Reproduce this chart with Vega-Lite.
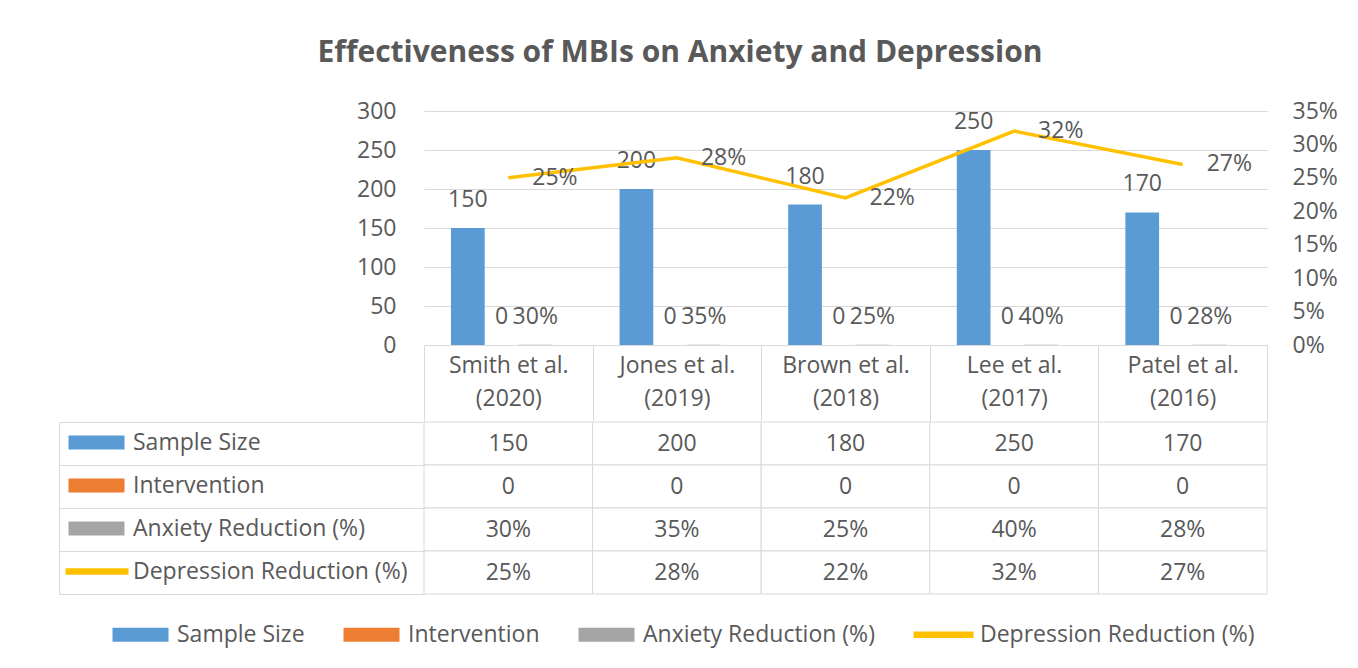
{
  "$schema": "https://vega.github.io/schema/vega-lite/v6.json",
  "background": "white",
  "padding": {"left": 58, "top": 38, "right": 20, "bottom": 10},
  "config": {
    "font": "Open Sans",
    "view": {"stroke": null},
    "axis": {"labelFont": "Open Sans", "labelColor": "#595959", "labelFontSize": 23},
    "legend": {"labelFont": "Open Sans", "labelColor": "#595959", "labelFontSize": 23}
  },
  "title": {"text": "Effectiveness of MBIs on Anxiety and Depression", "font": "Open Sans", "fontSize": 30, "fontWeight": "bold", "color": "#595959", "anchor": "middle", "offset": 32, "dx": -18},
  "datasets": {
    "long": [
      {"study": "Smith et al. (2020)", "series": "Sample Size", "value": 150},
      {"study": "Jones et al. (2019)", "series": "Sample Size", "value": 200},
      {"study": "Brown et al. (2018)", "series": "Sample Size", "value": 180},
      {"study": "Lee et al. (2017)", "series": "Sample Size", "value": 250},
      {"study": "Patel et al. (2016)", "series": "Sample Size", "value": 170},
      {"study": "Smith et al. (2020)", "series": "Intervention", "value": 0},
      {"study": "Jones et al. (2019)", "series": "Intervention", "value": 0},
      {"study": "Brown et al. (2018)", "series": "Intervention", "value": 0},
      {"study": "Lee et al. (2017)", "series": "Intervention", "value": 0},
      {"study": "Patel et al. (2016)", "series": "Intervention", "value": 0},
      {"study": "Smith et al. (2020)", "series": "Anxiety Reduction (%)", "value": 0.30},
      {"study": "Jones et al. (2019)", "series": "Anxiety Reduction (%)", "value": 0.35},
      {"study": "Brown et al. (2018)", "series": "Anxiety Reduction (%)", "value": 0.25},
      {"study": "Lee et al. (2017)", "series": "Anxiety Reduction (%)", "value": 0.40},
      {"study": "Patel et al. (2016)", "series": "Anxiety Reduction (%)", "value": 0.28},
      {"study": "Smith et al. (2020)", "series": "Depression Reduction (%)", "value": 0.25},
      {"study": "Jones et al. (2019)", "series": "Depression Reduction (%)", "value": 0.28},
      {"study": "Brown et al. (2018)", "series": "Depression Reduction (%)", "value": 0.22},
      {"study": "Lee et al. (2017)", "series": "Depression Reduction (%)", "value": 0.32},
      {"study": "Patel et al. (2016)", "series": "Depression Reduction (%)", "value": 0.27}
    ]
  },
  "spacing": -8,
  "vconcat": [
    {
      "width": 843,
      "height": 234,
      "data": {"name": "long"},
      "encoding": {
        "x": {
          "field": "study", "type": "nominal", "sort": null,
          "scale": {"domain": ["Smith et al. (2020)", "Jones et al. (2019)", "Brown et al. (2018)", "Lee et al. (2017)", "Patel et al. (2016)"], "paddingInner": 0, "paddingOuter": 0},
          "axis": {
            "title": null, "labelAngle": 0, "grid": false,
            "labelExpr": "[slice(datum.label, 0, indexof(datum.label, ' (')), slice(datum.label, indexof(datum.label, ' (') + 1)]",
            "domain": true, "domainColor": "#D9D9D9", "ticks": true, "tickBand": "extent", "tickSize": 76, "tickColor": "#D9D9D9",
            "labelPadding": -67, "labelBaseline": "top", "labelLineHeight": 33, "labelFontSize": 23
          }
        }
      },
      "layer": [
        {
          "transform": [{"filter": {"field": "series", "oneOf": ["Sample Size", "Intervention", "Anxiety Reduction (%)"]}}],
          "encoding": {
            "y": {
              "field": "value", "type": "quantitative",
              "scale": {"domain": [0, 300], "nice": false},
              "axis": {"title": null, "values": [0, 50, 100, 150, 200, 250, 300], "grid": true, "gridColor": "#D9D9D9", "domain": false, "ticks": false, "labelPadding": 28}
            },
            "xOffset": {
              "field": "series", "type": "nominal", "sort": null,
              "scale": {"domain": ["Sample Size", "Intervention", "Anxiety Reduction (%)"], "paddingInner": 0, "paddingOuter": 1.405, "align": 0.4}
            }
          },
          "layer": [
            {
              "mark": {"type": "bar"},
              "encoding": {
                "color": {
                  "field": "series", "type": "nominal",
                  "scale": {"domain": ["Sample Size", "Intervention", "Anxiety Reduction (%)"], "range": ["#5B9BD5", "#ED7D31", "#A5A5A5"]},
                  "legend": null
                }
              }
            },
            {
              "transform": [{"filter": {"field": "series", "oneOf": ["Sample Size", "Intervention"]}}],
              "mark": {"type": "text", "baseline": "bottom", "dy": -16, "color": "#595959", "fontSize": 23, "font": "Open Sans"},
              "encoding": {"text": {"field": "value", "type": "quantitative", "format": "d"}}
            },
            {
              "transform": [{"filter": {"field": "series", "equal": "Anxiety Reduction (%)"}}],
              "mark": {"type": "text", "baseline": "bottom", "dy": -16, "color": "#595959", "fontSize": 23, "font": "Open Sans"},
              "encoding": {"text": {"field": "value", "type": "quantitative", "format": ".0%"}}
            }
          ]
        },
        {
          "transform": [{"filter": {"field": "series", "equal": "Depression Reduction (%)"}}],
          "encoding": {
            "y": {
              "field": "value", "type": "quantitative",
              "scale": {"domain": [0, 0.35], "nice": false},
              "axis": {"orient": "right", "title": null, "values": [0, 0.05, 0.1, 0.15, 0.2, 0.25, 0.3, 0.35], "format": ".0%", "grid": false, "domain": false, "ticks": false, "labelPadding": 25}
            }
          },
          "layer": [
            {"mark": {"type": "line", "color": "#FFC000", "strokeWidth": 3.5}},
            {
              "mark": {"type": "text", "align": "left", "baseline": "middle", "dx": 24, "color": "#595959", "fontSize": 23, "font": "Open Sans"},
              "encoding": {"text": {"field": "value", "type": "quantitative", "format": ".0%"}}
            }
          ]
        }
      ],
      "resolve": {"scale": {"y": "independent"}}
    },
    {
      "width": 843,
      "height": 172,
      "data": {"name": "long"},
      "layer": [
        {
          "encoding": {
            "x": {
              "field": "study", "type": "nominal", "sort": null,
              "scale": {"domain": ["Smith et al. (2020)", "Jones et al. (2019)", "Brown et al. (2018)", "Lee et al. (2017)", "Patel et al. (2016)"], "paddingInner": 0, "paddingOuter": 0},
              "axis": null
            },
            "y": {
              "field": "series", "type": "nominal", "sort": null,
              "scale": {"domain": ["Sample Size", "Intervention", "Anxiety Reduction (%)", "Depression Reduction (%)"], "paddingInner": 0, "paddingOuter": 0},
              "axis": {"title": null, "labels": false, "domain": false, "ticks": true, "tickBand": "extent", "tickSize": 365, "tickColor": "#D9D9D9", "grid": false}
            }
          },
          "layer": [
            {"mark": {"type": "rect", "fill": "white", "stroke": "#D9D9D9", "strokeWidth": 1}},
            {
              "transform": [{"filter": {"field": "series", "oneOf": ["Sample Size", "Intervention"]}}],
              "mark": {"type": "text", "color": "#595959", "fontSize": 23, "font": "Open Sans"},
              "encoding": {"text": {"field": "value", "type": "quantitative", "format": "d"}}
            },
            {
              "transform": [{"filter": {"field": "series", "oneOf": ["Anxiety Reduction (%)", "Depression Reduction (%)"]}}],
              "mark": {"type": "text", "color": "#595959", "fontSize": 23, "font": "Open Sans"},
              "encoding": {"text": {"field": "value", "type": "quantitative", "format": ".0%"}}
            }
          ]
        },
        {
          "mark": {"type": "point", "opacity": 0},
          "encoding": {
            "y": {
              "field": "series", "type": "nominal", "sort": null,
              "scale": {"domain": ["Sample Size", "Intervention", "Anxiety Reduction (%)", "Depression Reduction (%)"], "paddingInner": 0, "paddingOuter": 0},
              "axis": {"orient": "left", "title": null, "labels": false, "ticks": false, "domain": true, "domainColor": "#D9D9D9", "offset": 365, "grid": false}
            }
          }
        },
        {
          "transform": [{"filter": "false"}],
          "mark": {"type": "square", "filled": true},
          "encoding": {
            "color": {
              "field": "series", "type": "nominal",
              "scale": {"domain": ["Sample Size", "Intervention", "Anxiety Reduction (%)", "Depression Reduction (%)"], "range": ["#5B9BD5", "#ED7D31", "#A5A5A5", "#FFC000"]},
              "legend": {
                "orient": "none", "legendX": -339, "legendY": 9, "direction": "vertical", "title": null,
                "symbolType": "M-2.8,-0.7H2.8V0.7H-2.8Z", "symbolSize": 400, "symbolStrokeWidth": 0, "symbolOpacity": 1,
                "labelOffset": 25, "rowPadding": 19, "labelFontSize": 23, "labelColor": "#595959", "labelLimit": 400,
                "encode": {"symbols": {"update": {"shape": {"signal": "datum.label === 'Depression Reduction (%)' ? 'M-3.1,-0.33H3.2V0.33H-3.1Z' : 'M-2.8,-0.7H2.8V0.7H-2.8Z'"}}}}
              }
            }
          }
        },
        {
          "transform": [{"filter": "false"}],
          "mark": {"type": "square", "filled": true},
          "encoding": {
            "color": {
              "field": "series", "type": "nominal",
              "scale": {"domain": ["Sample Size", "Intervention", "Anxiety Reduction (%)", "Depression Reduction (%)"], "range": ["#5B9BD5", "#ED7D31", "#A5A5A5", "#FFC000"]},
              "legend": {
                "orient": "none", "legendX": -295, "legendY": 201, "direction": "horizontal", "title": null,
                "symbolType": "M-2.8,-0.7H2.8V0.7H-2.8Z", "symbolSize": 400, "symbolStrokeWidth": 0, "symbolOpacity": 1,
                "labelOffset": 25, "columnPadding": 38, "labelFontSize": 23, "labelColor": "#595959", "labelLimit": 400,
                "encode": {"symbols": {"update": {"shape": {"signal": "datum.label === 'Depression Reduction (%)' ? 'M-3.0,-0.33H3.0V0.33H-3.0Z' : 'M-2.8,-0.7H2.8V0.7H-2.8Z'"}}}}
              }
            }
          }
        }
      ],
      "resolve": {"scale": {"y": "independent", "color": "independent"}, "legend": {"color": "independent"}}
    }
  ],
  "resolve": {"scale": {"x": "independent", "color": "independent"}, "legend": {"color": "independent"}}
}
